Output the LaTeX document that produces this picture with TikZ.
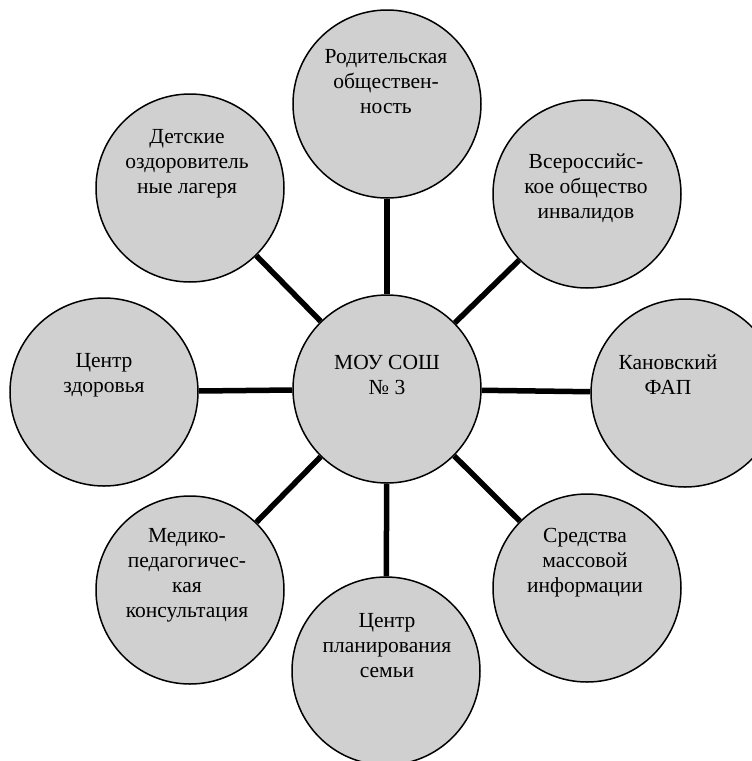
\documentclass[tikz,border=0pt]{standalone}
\usepackage{fontspec}
\setmainfont{Liberation Serif}
\usepackage{tikz}
\usetikzlibrary{positioning}

\definecolor{bubblegray}{RGB}{208,208,208}

\begin{document}
\begin{tikzpicture}[
    x=1pt, y=-1pt,
    bubble/.style={circle, draw=black, fill=bubblegray, line width=1.5pt, minimum size=188pt, inner sep=0pt},
    txt/.style={align=center, inner sep=0pt, font=\fontsize{21.5}{25}\selectfont},
    link/.style={line width=5.5pt}
]
\useasboundingbox (0,0) rectangle (752,761);
\clip (0,0) rectangle (752,761);

% Circles
\node[bubble] (hub) at (387,389) {};
\node[bubble] (parents) at (387,104) {};
\node[bubble] (camps) at (190,188) {};
\node[bubble] (invalid) at (587,194) {};
\node[bubble] (health) at (104,392) {};
\node[bubble] (fap) at (685,393) {};
\node[bubble] (medped) at (190,590) {};
\node[bubble] (media) at (587,588) {};
\node[bubble] (family) at (386,671) {};

% Links
\foreach \n in {parents, camps, invalid, health, fap, medped, media, family}
    \draw[link] (hub) -- (\n);

% Texts
\node[txt] (hub-t) at (387,375) {МОУ СОШ\\№ 3};
\node[txt] (parents-t) at (386,82) {Родительская\\обществен-\\ность};
\node[txt] (camps-t) at (187,164) {Детские\\оздоровитель\\ные лагеря};
\node[txt] (invalid-t) at (586,188) {Всероссийс-\\кое общество\\инвалидов};
\node[txt] (health-t) at (104,375) {Центр\\здоровья};
\node[txt] (fap-t) at (668,375) {Кановский\\ФАП};
\node[txt] (medped-t) at (187,575) {Медико-\\педагогичес-\\кая\\консультация};
\node[txt] (media-t) at (585,563) {Средства\\массовой\\информации};
\node[txt] (family-t) at (387,646) {Центр\\планирования\\семьи};

\end{tikzpicture}
\end{document}
